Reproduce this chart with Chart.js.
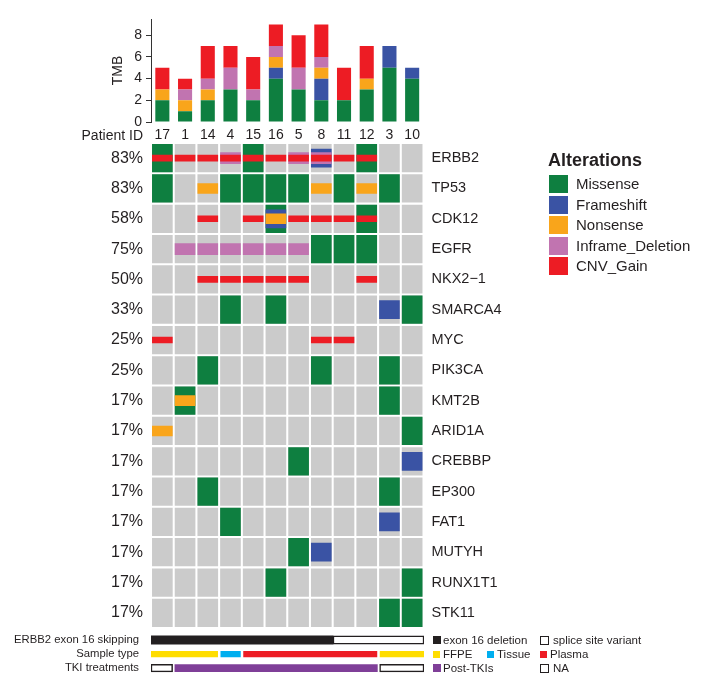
<!DOCTYPE html>
<html>
<head>
<meta charset="utf-8">
<script src="https://cdn.jsdelivr.net/npm/chart.js@4.4.0/dist/chart.umd.min.js"></script>
<style>
  body { margin: 0; background: #fff; font-family: "Liberation Sans", Arial, sans-serif; color: #231f20; }
  #wrap { position: relative; width: 714px; height: 694px; overflow: hidden; }
  canvas { position: absolute; left: 0; top: 0; }
  .txt { position: absolute; white-space: nowrap; }
  .sw { position: absolute; box-sizing: border-box; }
</style>
</head>
<body>
<div id="wrap">
  <canvas id="tmbChart" width="714" height="694"></canvas>
  <canvas id="gridChart" width="714" height="694"></canvas>
  <canvas id="annoChart" width="714" height="694"></canvas>
  <div class="txt" style="left:30px;width:113px;top:127px;line-height:16px;font-size:14px;text-align:right;">Patient ID</div>
  <div id="altLegend"></div>
  <div id="annoLegend"></div>
</div>
<script>
// patients in plot order
const patients = ["17", "1", "14", "4", "15", "16", "5", "8", "11", "12", "3", "10"];

// TMB per alteration type (stacked bottom -> top)
const tmbMissense   = [2, 1, 2, 3, 2, 4, 3, 2, 2, 3, 5, 4];
const tmbFrameshift = [0, 0, 0, 0, 0, 1, 0, 2, 0, 0, 2, 1];
const tmbNonsense   = [1, 1, 1, 0, 0, 1, 0, 1, 0, 1, 0, 0];
const tmbInframe    = [0, 1, 1, 2, 1, 1, 2, 1, 0, 0, 0, 0];
const tmbCnvGain    = [2, 1, 3, 2, 3, 2, 3, 3, 3, 3, 0, 0];

const genes = ["ERBB2", "TP53", "CDK12", "EGFR", "NKX2\u22121", "SMARCA4", "MYC", "PIK3CA",
  "KMT2B", "ARID1A", "CREBBP", "EP300", "FAT1", "MUTYH", "RUNX1T1", "STK11"];

// M = Missense, F = Frameshift, N = Nonsense, I = Inframe_Deletion, C = CNV_Gain
const alterations = [
  ["MC", "C", "C", "IC", "MC", "C", "IC", "FIC", "C", "MC", "", ""],   // ERBB2
  ["M", "", "N", "M", "M", "M", "M", "N", "M", "N", "M", ""],         // TP53
  ["", "", "C", "", "C", "MFN", "C", "C", "C", "MC", "", ""],          // CDK12
  ["", "I", "I", "I", "I", "I", "I", "M", "M", "M", "", ""],           // EGFR
  ["", "", "C", "C", "C", "C", "C", "", "", "C", "", ""],              // NKX2-1
  ["", "", "", "M", "", "M", "", "", "", "", "F", "M"],                // SMARCA4
  ["C", "", "", "", "", "", "", "C", "C", "", "", ""],                 // MYC
  ["", "", "M", "", "", "", "", "M", "", "", "M", ""],                 // PIK3CA
  ["", "MN", "", "", "", "", "", "", "", "", "M", ""],                 // KMT2B
  ["N", "", "", "", "", "", "", "", "", "", "", "M"],                  // ARID1A
  ["", "", "", "", "", "", "M", "", "", "", "", "F"],                  // CREBBP
  ["", "", "M", "", "", "", "", "", "", "", "M", ""],                  // EP300
  ["", "", "", "M", "", "", "", "", "", "", "F", ""],                  // FAT1
  ["", "", "", "", "", "", "M", "F", "", "", "", ""],                  // MUTYH
  ["", "", "", "", "", "M", "", "", "", "", "", "M"],                  // RUNX1T1
  ["", "", "", "", "", "", "", "", "", "", "M", "M"]                   // STK11
];

const typeCodes = ["M", "F", "N", "I", "C"];
const typeNames = ["Missense", "Frameshift", "Nonsense", "Inframe_Deletion", "CNV_Gain"];

// annotation tracks
const trackNames = ["ERBB2 exon 16 skipping", "Sample type", "TKI treatments"];
const exon16Status = ["del", "del", "del", "del", "del", "del", "del", "del", "splice", "splice", "splice", "splice"];
const sampleTypes = ["FFPE", "FFPE", "FFPE", "Tissue", "Plasma", "Plasma", "Plasma", "Plasma", "Plasma", "Plasma", "FFPE", "FFPE"];
const tkiStatus = ["NA", "Post", "Post", "Post", "Post", "Post", "Post", "Post", "Post", "Post", "NA", "NA"];

// ---- styles ----
const typeColors = { M: "#0e7f40", F: "#3a53a4", N: "#f9a51b", I: "#c174b0", C: "#ed1c24" };
const bandHeight = { M: 0.93, F: 0.62, N: 0.35, I: 0.39, C: 0.22 };
const cellInset = 0.035;
const textColor = "#231f20";
const font = "'Liberation Sans', Arial, sans-serif";
Chart.defaults.font.family = font;
Chart.defaults.color = textColor;

// TMB stacked bar chart
const tmbSeries = [tmbMissense, tmbFrameshift, tmbNonsense, tmbInframe, tmbCnvGain];
new Chart(document.getElementById("tmbChart"), {
  type: "bar",
  data: {
    labels: patients,
    datasets: typeCodes.map((c, i) => ({
      label: typeNames[i],
      data: tmbSeries[i],
      backgroundColor: typeColors[c],
      categoryPercentage: 0.62,
      barPercentage: 1,
    })),
  },
  options: {
    responsive: false,
    animation: false,
    layout: { padding: { left: 106, top: 19, right: 290.5, bottom: 548 } },
    plugins: { legend: { display: false }, tooltip: { enabled: false } },
    scales: {
      x: {
        stacked: true,
        grid: { display: false, drawTicks: false },
        border: { display: false },
        ticks: { font: { size: 14 }, padding: 5, color: textColor },
        afterFit: (s) => { s.height = 24; },
      },
      y: {
        stacked: true,
        min: 0,
        max: 9.5,
        border: { display: true, color: "#333", width: 1 },
        grid: { display: true, drawOnChartArea: false, drawTicks: true, tickLength: 5, color: "#333" },
        ticks: { stepSize: 2, includeBounds: false, font: { size: 14 }, padding: 4, color: textColor },
        title: { display: true, text: "TMB", font: { size: 14 }, color: textColor },
        afterFit: (s) => { s.width = 45; },
      },
    },
  },
});

// Oncoprint grid
const bgData = [];
genes.forEach((g, gi) => {
  patients.forEach((p) => bgData.push({ x: p, y: [gi + cellInset, gi + 1 - cellInset] }));
});
const gridSets = [{ label: "none", data: bgData, backgroundColor: "#cbcbcb" }];
typeCodes.forEach((code, ti) => {
  const h = bandHeight[code] / 2;
  const data = [];
  alterations.forEach((row, gi) => {
    row.forEach((codes, pi) => {
      if (codes.includes(code)) data.push({ x: patients[pi], y: [gi + 0.5 - h, gi + 0.5 + h] });
    });
  });
  gridSets.push({ label: typeNames[ti], data: data, backgroundColor: typeColors[code] });
});
// first dataset is drawn on top, so reverse draw order
gridSets.reverse();

const pctLabels = alterations.map((row) => {
  const n = row.filter((c) => c !== "").length;
  return Math.round((n / patients.length) * 100) + "%";
});
const rowTicks = (s) => { s.ticks = genes.map((g, i) => ({ value: i + 0.5 })); };

new Chart(document.getElementById("gridChart"), {
  type: "bar",
  data: { labels: patients, datasets: gridSets },
  options: {
    responsive: false,
    animation: false,
    layout: { padding: { top: 143, bottom: 66, left: 0, right: 0 } },
    datasets: { bar: { grouped: false, categoryPercentage: 0.91, barPercentage: 1 } },
    plugins: { legend: { display: false }, tooltip: { enabled: false } },
    scales: {
      x: { display: false },
      y: {
        position: "left",
        min: 0,
        max: genes.length,
        reverse: true,
        grid: { display: false, drawTicks: false },
        border: { display: false },
        afterBuildTicks: rowTicks,
        ticks: { autoSkip: false, padding: 8, font: { size: 16 }, color: textColor, callback: (v, i) => pctLabels[i] },
        afterFit: (s) => { s.width = 151; },
      },
      y2: {
        position: "right",
        min: 0,
        max: genes.length,
        reverse: true,
        grid: { display: false, drawTicks: false },
        border: { display: false },
        afterBuildTicks: rowTicks,
        ticks: { autoSkip: false, padding: 8, font: { size: 14.5 }, color: textColor, callback: (v, i) => genes[i] },
        afterFit: (s) => { s.width = 290.5; },
      },
    },
  },
});

// Annotation tracks
const annoStyles = {
  del:    { label: "exon 16 deletion", bg: "#231f20", border: 0, size: 8.5 },
  splice: { label: "splice site variant", bg: "#ffffff", border: 1.5, size: 8.5 },
  FFPE:   { label: "FFPE", bg: "#ffdd00", border: 0, size: 5.5 },
  Tissue: { label: "Tissue", bg: "#00aeef", border: 0, size: 5.5 },
  Plasma: { label: "Plasma", bg: "#ed1c24", border: 0, size: 5.5 },
  Post:   { label: "Post-TKIs", bg: "#7f3f98", border: 0, size: 7 },
  NA:     { label: "NA", bg: "#ffffff", border: 1.5, size: 7.5 },
};
const trackGaps = [0, 0.07, 0.05];

function runs(values) {
  const out = [];
  values.forEach((v, i) => {
    const last = out[out.length - 1];
    if (last && last.value === v) last.end = i + 1;
    else out.push({ value: v, start: i, end: i + 1 });
  });
  return out;
}

const annoSets = {};
[exon16Status, sampleTypes, tkiStatus].forEach((vals, ti) => {
  const gap = trackGaps[ti];
  runs(vals).forEach((r) => {
    const st = annoStyles[r.value];
    if (!annoSets[r.value]) {
      annoSets[r.value] = {
        label: st.label,
        data: [],
        backgroundColor: st.bg,
        borderColor: "#231f20",
        borderWidth: st.border,
        borderSkipped: false,
        maxBarThickness: st.size,
      };
    }
    const a = r.start === 0 ? 0 : r.start + gap;
    const b = r.end === vals.length ? r.end : r.end - gap;
    annoSets[r.value].data.push({ y: trackNames[ti], x: [a, b] });
  });
});

new Chart(document.getElementById("annoChart"), {
  type: "bar",
  data: { labels: trackNames, datasets: Object.values(annoSets) },
  options: {
    indexAxis: "y",
    responsive: false,
    animation: false,
    layout: { padding: { top: 633, bottom: 18, left: 0, right: 290 } },
    datasets: { bar: { grouped: false, categoryPercentage: 1, barPercentage: 1 } },
    plugins: { legend: { display: false }, tooltip: { enabled: false } },
    scales: {
      x: { display: false, min: 0, max: patients.length },
      y: {
        grid: { display: false, drawTicks: false },
        border: { display: false },
        ticks: { autoSkip: false, padding: 12, font: { size: 11.3 }, color: textColor },
        afterFit: (s) => { s.width = 151; },
      },
    },
  },
});

// Alterations legend
const alt = document.getElementById("altLegend");
let html = '<div class="txt" style="left:548px;top:150px;font-size:18px;font-weight:bold;line-height:20px;">Alterations</div>';
typeCodes.forEach((c, i) => {
  const top = 175 + i * 20.5;
  html += '<div class="sw" style="left:549px;top:' + top + 'px;width:19px;height:18px;background:' + typeColors[c] + ';"></div>';
  html += '<div class="txt" style="left:576px;top:' + (top - 1) + 'px;font-size:15px;line-height:20px;">' + typeNames[i] + '</div>';
});
alt.innerHTML = html;

// Annotation legend
const annoLegendItems = [
  ["del", 433, 640], ["splice", 540, 640],
  ["FFPE", 433, 654], ["Tissue", 487, 654], ["Plasma", 540, 654],
  ["Post", 433, 668], ["NA", 540, 668],
];
let ahtml = "";
annoLegendItems.forEach(([key, x, cy]) => {
  const st = annoStyles[key];
  const sz = st.border ? 9 : (key === "del" || key === "Post" ? 8 : 7);
  ahtml += '<div class="sw" style="left:' + x + 'px;top:' + (cy - sz / 2) + 'px;width:' + (key === "del" ? 8 : sz) + 'px;height:' + sz + 'px;background:' + st.bg +
    ';border:' + (st.border ? '1.5px solid #231f20' : 'none') + ';"></div>';
  ahtml += '<div class="txt" style="left:' + (x + (st.border ? 13 : 10)) + 'px;top:' + (cy - 8) + 'px;font-size:11.5px;line-height:16px;">' + st.label + '</div>';
});
document.getElementById("annoLegend").innerHTML = ahtml;
</script>
</body>
</html>
